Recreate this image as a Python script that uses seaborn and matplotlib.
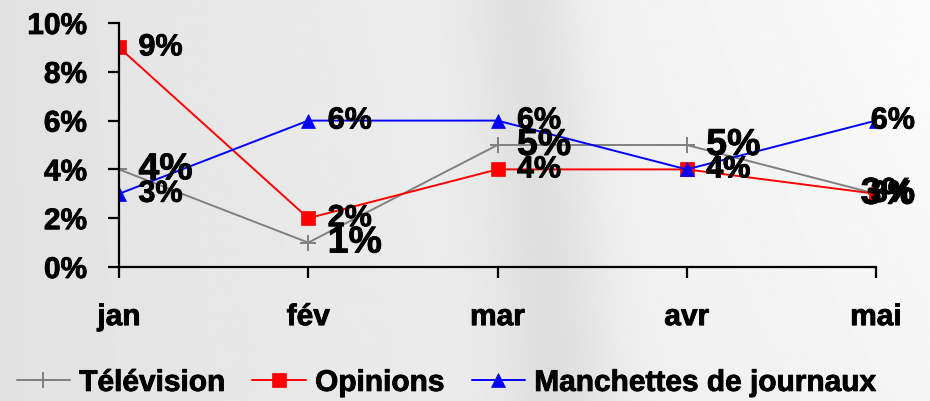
import numpy as np
import pandas as pd
import matplotlib
matplotlib.use("Agg")
import matplotlib.pyplot as plt
import matplotlib.patheffects as pe
import seaborn as sns

months = ["jan", "fév", "mar", "avr", "mai"]
television = [4, 1, 5, 5, 3]
opinions = [9, 2, 4, 4, 3]
manchettes = [3, 6, 6, 4, 6]
series_names = ["Télévision", "Opinions", "Manchettes de journaux"]
y_ticks = [0, 2, 4, 6, 8, 10]

sns.set_theme(style="white")
plt.rcParams['font.family'] = ['Liberation Sans', 'DejaVu Sans']
plt.rcParams['font.weight'] = 'bold'

fig = plt.figure(figsize=(9.3, 4.02), dpi=100)

# background texture-like gradient
bg = fig.add_axes([0, 0, 1, 1], zorder=-10)
xx, yy = np.meshgrid(np.linspace(0, 1, 400), np.linspace(0, 1, 200))
base = 0.885 + 0.075 * xx + 0.02 * (1 - yy) * xx
band = 0.06 * np.exp(-((xx - 0.60 + 0.04 * (1 - yy)) / 0.06) ** 2)
arr = np.clip(base - band, 0, 1)
bg.imshow(arr, cmap="gray", vmin=0, vmax=1, aspect="auto", extent=[0, 1, 0, 1], origin="upper")
bg.set_axis_off()

ax = fig.add_axes([119 / 930, 1 - 268 / 402, (876 - 119) / 930, (268 - 24) / 402])
ax.set_facecolor("none")

styles = [
    (television, "#808080", "+", 11, 1.4),
    (opinions, "#ff0000", "s", 10.5, 1.4),
    (manchettes, "#0000ff", "^", 10.5, 1.4),
]
xs = list(range(len(months)))
handles = []
for name, (vals, col, mk, ms, lw) in zip(series_names, styles):
    df = pd.DataFrame({"x": xs, "y": vals})
    sns.lineplot(data=df, x="x", y="y", ax=ax, color=col, marker=mk, markersize=ms,
                 markeredgecolor=col, markeredgewidth=1.4 if mk == "+" else 0.5,
                 linewidth=lw, label=name, legend=False)
    handles.append(ax.lines[-1])

stroke = [pe.withStroke(linewidth=0.6, foreground="black")]
label_sizes = [27, 22, 22]
for (vals, col, mk, ms, lw), fs in zip(styles, label_sizes):
    for i, v in enumerate(vals):
        if i == len(vals) - 1:
            ax.annotate(f"{v}%", (i, v), xytext=(28, 0), textcoords="offset points",
                        ha="right", va="center", fontsize=fs, fontweight="bold", color="black",
                        path_effects=stroke)
        else:
            ax.annotate(f"{v}%", (i, v), xytext=(14, 0), textcoords="offset points",
                        ha="left", va="center", fontsize=fs, fontweight="bold", color="black",
                        path_effects=stroke)

ax.set_xlim(0, len(months) - 1)
ax.set_ylim(0, 10)
ax.set_xticks(xs)
ax.set_xticklabels(months)
ax.set_yticks(y_ticks)
ax.set_yticklabels([f"{t}%" for t in y_ticks])
ax.set_xlabel("")
ax.set_ylabel("")
for lab in ax.get_xticklabels() + ax.get_yticklabels():
    lab.set_fontsize(21.5)
    lab.set_fontweight("bold")
    lab.set_color("black")
    lab.set_path_effects(stroke)

sns.despine(ax=ax, top=True, right=True)
for s in ["left", "bottom"]:
    ax.spines[s].set_color("black")
    ax.spines[s].set_linewidth(1.6)
ax.tick_params(axis="both", which="major", direction="out", length=8, width=1.6, color="black",
               left=True, bottom=True)
ax.tick_params(axis="y", pad=15)
ax.tick_params(axis="x", pad=18)

leg = fig.legend(handles=handles, labels=series_names, loc="center", bbox_to_anchor=(0.48, 0.045),
                 ncol=3, frameon=False, prop={"size": 21.5, "weight": "bold"},
                 handlelength=1.8, handletextpad=0.3, columnspacing=0.9)
for t in leg.get_texts():
    t.set_color("black")
    t.set_path_effects(stroke)

fig.savefig("out.png", dpi=100)
